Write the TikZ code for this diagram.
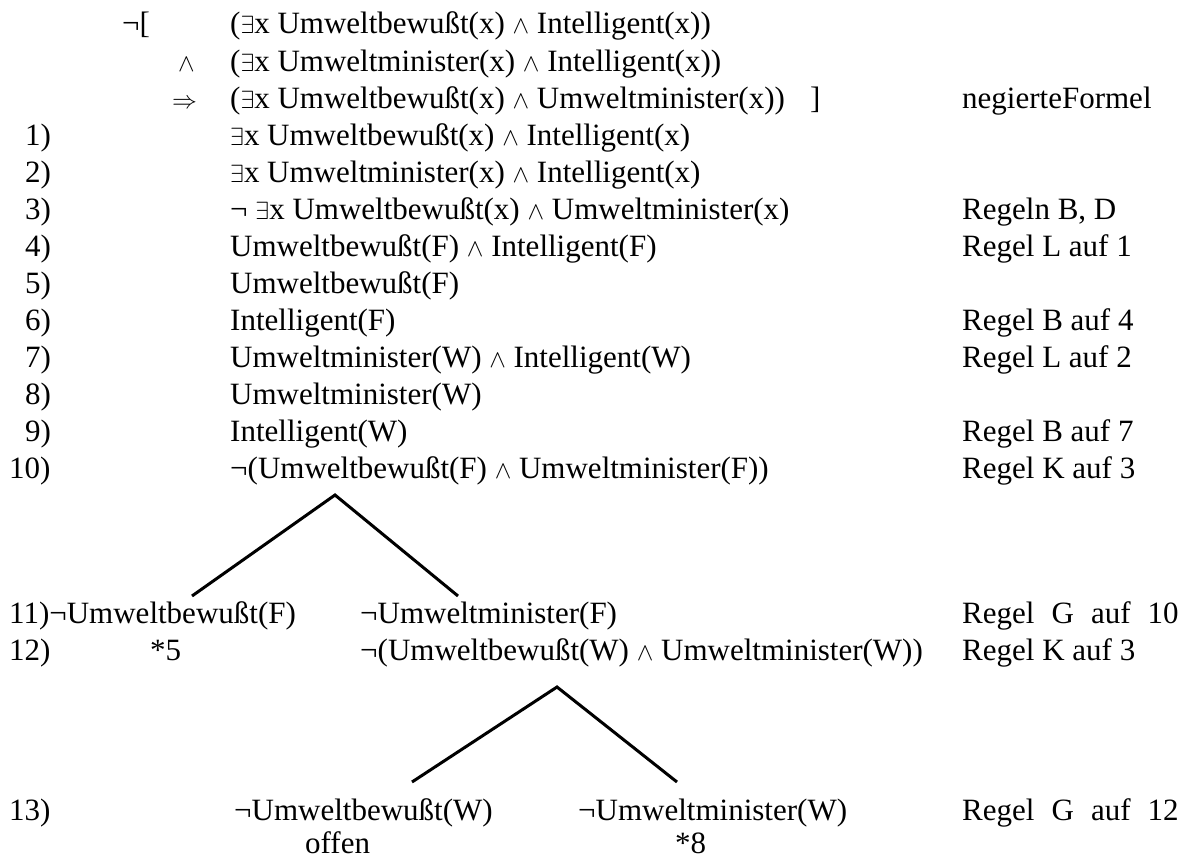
\documentclass[tikz,border=0pt]{standalone}
\usepackage{fontspec}
\setmainfont{Liberation Serif}
\newcommand\Ex{$\exists$}
\newcommand\An{$\wedge$}
\newcommand\Imp{$\Rightarrow$}
\newcommand\gap{\hspace{0.55em}}
\begin{document}
\begin{tikzpicture}[x=1pt,y=-1pt,
  txt/.style={inner sep=0pt, anchor=base west, font=\fontsize{31}{37}\selectfont},
  branch/.style={line width=3pt}]
\useasboundingbox (0,0) rectangle (1194,859);
% negated formula
\node[txt] (neg)  at (122,34)  {¬[};
\node[txt] (h0)   at (230,34)  {(\Ex x Umweltbewußt(x) \An{} Intelligent(x))};
\node[txt] (and1) at (178,71)  {\An};
\node[txt] (h1)   at (230,71)  {(\Ex x Umweltminister(x) \An{} Intelligent(x))};
\node[txt] (imp)  at (172,108) {\Imp};
\node[txt] (h2)   at (230,108) {(\Ex x Umweltbewußt(x) \An{} Umweltminister(x))};
\node[txt] (br)   at (810,108) {]};
\node[txt] (c0)   at (962,108) {negierteFormel};
% numbered lines
\node[txt] (l1) at (25,145) {1)};
\node[txt] (f1) at (230,145) {\Ex x Umweltbewußt(x) \An{} Intelligent(x)};
\node[txt] (l2) at (25,182) {2)};
\node[txt] (f2) at (230,182) {\Ex x Umweltminister(x) \An{} Intelligent(x)};
\node[txt] (l3) at (25,219) {3)};
\node[txt] (f3) at (230,219) {¬ \Ex x Umweltbewußt(x) \An{} Umweltminister(x)};
\node[txt] (c3) at (962,219) {Regeln B, D};
\node[txt] (l4) at (25,256) {4)};
\node[txt] (f4) at (230,256) {Umweltbewußt(F) \An{} Intelligent(F)};
\node[txt] (c4) at (962,256) {Regel L auf 1};
\node[txt] (l5) at (25,293) {5)};
\node[txt] (f5) at (230,293) {Umweltbewußt(F)};
\node[txt] (l6) at (25,330) {6)};
\node[txt] (f6) at (230,330) {Intelligent(F)};
\node[txt] (c6) at (962,330) {Regel B auf 4};
\node[txt] (l7) at (25,367) {7)};
\node[txt] (f7) at (230,367) {Umweltminister(W) \An{} Intelligent(W)};
\node[txt] (c7) at (962,367) {Regel L auf 2};
\node[txt] (l8) at (25,404) {8)};
\node[txt] (f8) at (230,404) {Umweltminister(W)};
\node[txt] (l9) at (25,441) {9)};
\node[txt] (f9) at (230,441) {Intelligent(W)};
\node[txt] (c9) at (962,441) {Regel B auf 7};
\node[txt] (l10) at (9,478) {10)};
\node[txt] (f10) at (230,478) {¬(Umweltbewußt(F) \An{} Umweltminister(F))};
\node[txt] (c10) at (962,478) {Regel K auf 3};
% first branching
\coordinate (t1) at (335,495);
\coordinate (t1l) at (192,596);
\coordinate (t1r) at (458,596);
\draw[branch] (t1l) -- (t1) -- (t1r);
\node[txt] (l11) at (9,623) {11)¬Umweltbewußt(F)};
\node[txt] (f11) at (360,623) {¬Umweltminister(F)};
\node[txt] (c11) at (962,623) {Regel\gap G\gap auf\gap 10};
\node[txt] (l12) at (9,660) {12)};
\node[txt] (x5)  at (150,660) {*5};
\node[txt] (f12) at (360,660) {¬(Umweltbewußt(W) \An{} Umweltminister(W))};
\node[txt] (c12) at (962,660) {Regel K auf 3};
% second branching
\coordinate (t2) at (557,687);
\coordinate (t2l) at (412,782);
\coordinate (t2r) at (677,782);
\draw[branch] (t2l) -- (t2) -- (t2r);
\node[txt] (l13) at (9,820) {13)};
\node[txt] (f13a) at (234,820) {¬Umweltbewußt(W)};
\node[txt] (f13b) at (578,820) {¬Umweltminister(W)};
\node[txt] (c13) at (962,820) {Regel\gap G\gap auf\gap 12};
\node[txt] (open) at (305,853) {offen};
\node[txt] (x8)  at (675,853) {*8};
\end{tikzpicture}
\end{document}
